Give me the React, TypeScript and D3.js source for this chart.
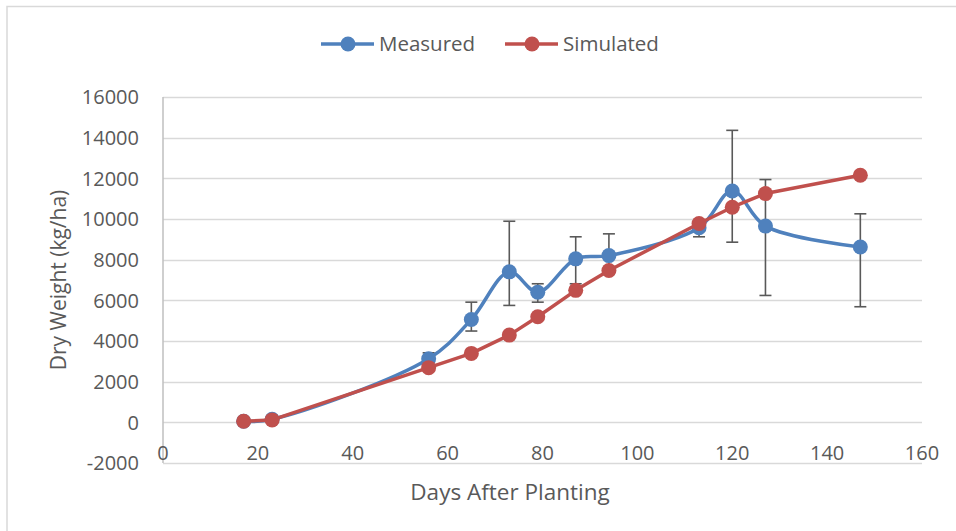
import { useRef, useEffect } from "react";
import * as d3 from "d3";

// data
const days = [17, 23, 56, 65, 73, 79, 87, 94, 113, 120, 127, 147];
const measured = [50, 150, 3130, 5060, 7400, 6400, 8040, 8200, 9570, 11380, 9650, 8620];
// error bar ends (upper / lower), 0 = no bar
const measuredHigh = [0, 0, 3420, 5910, 9890, 6815, 9125, 9270, 9870, 14360, 11940, 10255];
const measuredLow = [0, 0, 2930, 4490, 5750, 5910, 6815, 7300, 9125, 8860, 6240, 5685];
const simulated = [50, 120, 2690, 3390, 4290, 5195, 6490, 7470, 9780, 10580, 11250, 12150];
const xTicks = [0, 20, 40, 60, 80, 100, 120, 140, 160];
const yTicks = [-2000, 0, 2000, 4000, 6000, 8000, 10000, 12000, 14000, 16000];
const seriesNames = ["Measured", "Simulated"];

const W = 956;
const H = 531;
const BLUE = "#4F81BD";
const RED = "#C0504D";
const TEXT = "#595959";
const FONT = "'Open Sans', sans-serif";

export default function App() {
  const svgRef = useRef<SVGSVGElement>(null);

  useEffect(() => {
    const svg = d3.select(svgRef.current);
    svg.selectAll("*").remove();

    const x = d3.scaleLinear().domain([0, 160]).range([163, 922]);
    const y = d3.scaleLinear().domain([-2000, 16000]).range([463, 97]);

    // chart border
    svg
      .append("rect")
      .attr("x", 7)
      .attr("y", 6.5)
      .attr("width", W + 20)
      .attr("height", H + 20)
      .attr("fill", "#fff")
      .attr("stroke", "#d9d9d9")
      .attr("stroke-width", 1.5);

    // gridlines
    svg
      .append("g")
      .selectAll("line")
      .data(yTicks)
      .join("line")
      .attr("x1", x(0))
      .attr("x2", x(160))
      .attr("y1", (d) => Math.round(y(d)) + 0.5)
      .attr("y2", (d) => Math.round(y(d)) + 0.5)
      .attr("stroke", "#d9d9d9")
      .attr("stroke-width", 1.5);

    // vertical axis line
    svg
      .append("line")
      .attr("x1", x(0))
      .attr("x2", x(0))
      .attr("y1", y(16000))
      .attr("y2", y(-2000))
      .attr("stroke", "#bfbfbf")
      .attr("stroke-width", 1.5);

    // y tick labels
    svg
      .append("g")
      .selectAll("text")
      .data(yTicks)
      .join("text")
      .attr("x", 139)
      .attr("y", (d) => y(d))
      .attr("dy", "0.36em")
      .attr("text-anchor", "end")
      .attr("font-family", FONT)
      .attr("font-size", 20)
      .attr("fill", TEXT)
      .text((d) => d);

    // x tick labels
    svg
      .append("g")
      .selectAll("text")
      .data(xTicks)
      .join("text")
      .attr("x", (d) => x(d))
      .attr("y", 460)
      .attr("text-anchor", "middle")
      .attr("font-family", FONT)
      .attr("font-size", 20)
      .attr("fill", TEXT)
      .text((d) => d);

    // axis titles
    svg
      .append("text")
      .attr("x", 510)
      .attr("y", 500)
      .attr("text-anchor", "middle")
      .attr("font-family", FONT)
      .attr("font-size", 22.5)
      .attr("fill", TEXT)
      .text("Days After Planting");
    svg
      .append("text")
      .attr("transform", `translate(66,${(y(16000) + y(-2000)) / 2}) rotate(-90)`)
      .attr("text-anchor", "middle")
      .attr("font-family", FONT)
      .attr("font-size", 21)
      .attr("fill", TEXT)
      .text("Dry Weight (kg/ha)");

    // error bars (measured)
    const err = svg.append("g").attr("stroke", "#595959").attr("stroke-width", 1.6);
    days.forEach((d, i) => {
      if (!measuredHigh[i]) return;
      const cx = x(d);
      const top = y(measuredHigh[i]);
      const bot = y(measuredLow[i]);
      err.append("line").attr("x1", cx).attr("x2", cx).attr("y1", top).attr("y2", bot);
      err.append("line").attr("x1", cx - 6).attr("x2", cx + 6).attr("y1", top).attr("y2", top);
      err.append("line").attr("x1", cx - 6).attr("x2", cx + 6).attr("y1", bot).attr("y2", bot);
    });

    const drawSeries = (vals: number[], color: string, smooth: boolean) => {
      const pts: [number, number][] = days.map((d, i) => [d, vals[i]]);
      const gen = d3
        .line<[number, number]>()
        .x((p) => x(p[0]))
        .y((p) => y(p[1]))
        .curve(smooth ? d3.curveCatmullRom.alpha(0.5) : d3.curveLinear);
      svg
        .append("path")
        .attr("d", gen(pts))
        .attr("fill", "none")
        .attr("stroke", color)
        .attr("stroke-width", 3.5)
        .attr("stroke-linejoin", "round");
      svg
        .append("g")
        .selectAll("circle")
        .data(pts)
        .join("circle")
        .attr("cx", (p) => x(p[0]))
        .attr("cy", (p) => y(p[1]))
        .attr("r", 7.5)
        .attr("fill", color);
    };
    drawSeries(measured, BLUE, true);
    drawSeries(simulated, RED, false);

    // legend
    const legend = svg.append("g");
    const items = [
      { name: seriesNames[0], color: BLUE, x0: 321 },
      { name: seriesNames[1], color: RED, x0: 505 },
    ];
    items.forEach((it) => {
      legend
        .append("line")
        .attr("x1", it.x0)
        .attr("x2", it.x0 + 53)
        .attr("y1", 44)
        .attr("y2", 44)
        .attr("stroke", it.color)
        .attr("stroke-width", 3.5);
      legend
        .append("circle")
        .attr("cx", it.x0 + 27)
        .attr("cy", 44)
        .attr("r", 7.5)
        .attr("fill", it.color);
      legend
        .append("text")
        .attr("x", it.x0 + 58)
        .attr("y", 44)
        .attr("dy", "0.36em")
        .attr("font-family", FONT)
        .attr("font-size", 20.5)
        .attr("fill", TEXT)
        .text(it.name);
    });
  }, []);

  return (
    <svg
      ref={svgRef}
      width={W}
      height={H}
      style={{ position: "absolute", left: 0, top: 0, background: "#fff" }}
    />
  );
}
